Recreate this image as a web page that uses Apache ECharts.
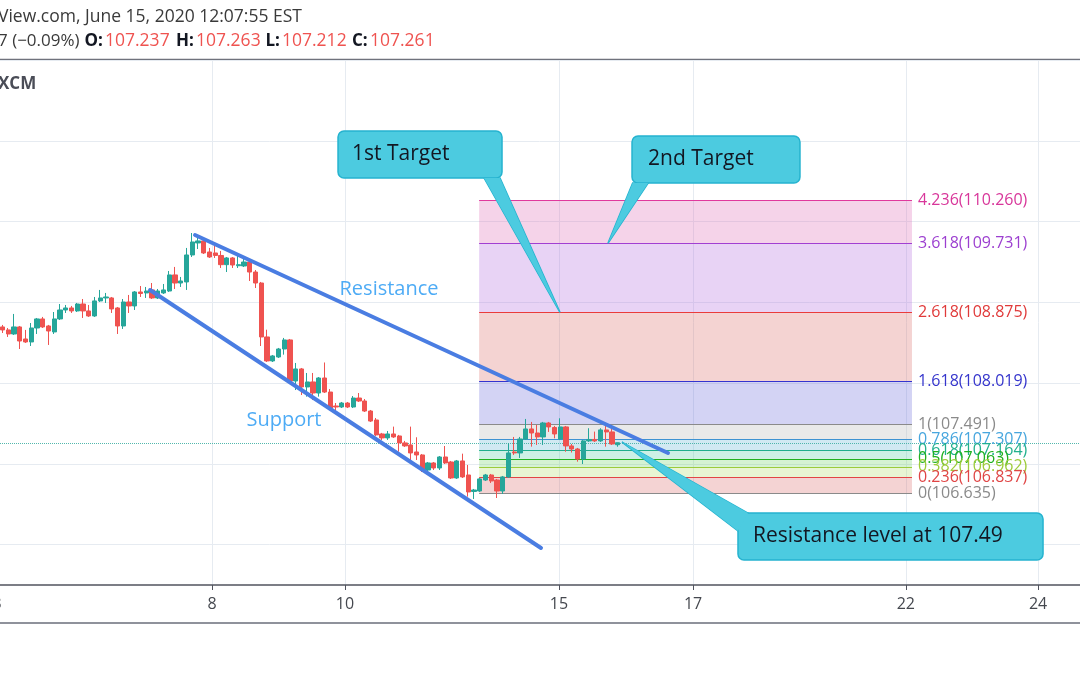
<!DOCTYPE html>
<html>
<head>
<meta charset="utf-8">
<script src="https://cdn.jsdelivr.net/npm/echarts@6.0.0/dist/echarts.min.js"></script>
<style>
html,body{margin:0;padding:0;background:#ffffff;overflow:hidden}
#chart{width:1080px;height:675px}
</style>
</head>
<body>
<div id="chart"></div>
<script>
// ---------------- data (USD/JPY, 2h candles, June 2020) ----------------
const opens = [108.695,108.658,108.608,108.695,108.546,108.509,108.682,108.794,108.707,108.633,
108.794,108.905,108.930,108.893,108.979,108.893,108.831,109.017,109.054,109.054,
108.930,108.707,109.004,108.955,109.128,109.116,109.153,109.054,109.116,109.140,
109.339,109.239,109.252,109.586,109.735,109.760,109.623,109.611,109.580,109.466,
109.549,109.453,109.450,109.499,109.375,109.239,108.571,108.274,108.323,108.422,
108.534,108.026,108.175,107.952,108.014,107.877,108.063,107.889,107.716,107.704,
107.753,107.704,107.815,107.778,107.654,107.543,107.370,107.321,107.370,107.345,
107.259,107.234,107.147,107.110,106.924,107.011,106.949,107.085,107.023,106.825,
107.036,106.862,106.658,106.664,106.800,106.862,106.800,106.664,106.838,107.147,
107.135,107.308,107.432,107.382,107.333,107.506,107.450,107.308,107.457,107.222,
107.184,107.060,107.284,107.302,107.284,107.420,107.395,107.237];
const closes = [108.658,108.608,108.695,108.521,108.509,108.682,108.794,108.695,108.645,108.794,
108.905,108.930,108.893,108.979,108.893,108.831,109.017,109.054,109.066,108.918,
108.707,109.004,108.955,109.128,109.109,109.140,109.054,109.140,109.153,109.339,
109.239,109.264,109.586,109.747,109.760,109.611,109.561,109.580,109.466,109.549,
109.462,109.466,109.499,109.375,109.239,108.571,108.274,108.336,108.422,108.534,
108.026,108.175,107.952,108.014,107.877,108.063,107.889,107.691,107.704,107.753,
107.704,107.815,107.778,107.654,107.530,107.358,107.321,107.370,107.333,107.259,
107.222,107.135,107.110,106.924,107.011,106.949,107.085,107.011,106.825,107.036,
106.838,106.652,106.676,106.813,106.862,106.788,106.664,106.838,107.135,107.135,
107.308,107.432,107.382,107.333,107.506,107.457,107.370,107.457,107.222,107.184,
107.060,107.284,107.302,107.284,107.420,107.395,107.246,107.261];
const highs = [108.720,108.682,108.856,108.707,108.658,108.744,108.806,108.819,108.720,108.880,
108.979,108.967,108.955,108.992,109.041,108.967,109.066,109.153,109.116,109.066,
108.942,109.041,109.091,109.140,109.202,109.190,109.239,109.165,109.227,109.388,
109.438,109.314,109.673,109.858,109.822,109.772,109.673,109.698,109.636,109.561,
109.561,109.574,109.561,109.528,109.400,109.252,108.661,108.348,108.435,108.559,
108.546,108.249,108.187,108.125,108.125,108.075,108.255,107.926,107.753,107.766,
107.766,107.840,107.877,107.803,107.667,107.568,107.383,107.407,107.461,107.358,
107.284,107.461,107.329,107.122,107.023,107.023,107.097,107.221,107.036,107.048,
107.126,106.986,106.689,106.825,106.875,106.875,106.813,106.850,107.255,107.333,
107.333,107.556,107.519,107.481,107.519,107.519,107.469,107.564,107.469,107.246,
107.197,107.296,107.441,107.399,107.441,107.481,107.441,107.263];
const lows = [108.620,108.571,108.596,108.422,108.497,108.459,108.608,108.682,108.472,108.608,
108.781,108.868,108.868,108.880,108.806,108.819,108.819,109.004,108.992,108.868,
108.608,108.670,108.868,108.905,109.066,109.054,109.041,109.041,109.103,109.128,
109.165,109.190,109.153,109.561,109.660,109.598,109.549,109.549,109.425,109.375,
109.425,109.425,109.437,109.264,109.177,108.459,108.261,108.261,108.311,108.352,
108.001,107.914,107.852,107.832,107.790,107.832,107.877,107.667,107.629,107.691,
107.691,107.691,107.766,107.642,107.518,107.345,107.296,107.296,107.321,107.150,
107.209,107.011,107.048,106.899,106.912,106.924,106.924,106.998,106.813,106.813,
106.825,106.594,106.565,106.652,106.788,106.763,106.577,106.627,106.825,107.110,
107.073,107.296,107.213,107.234,107.234,107.395,107.316,107.296,107.150,107.140,
107.027,106.998,107.271,107.271,107.271,107.213,107.234,107.212];

// x axis in bar-index units; day labels
const tickLabels = ['3', '8', '10', '15', '17', '22', '24'];
const tickValues = [-0.95, 36.45, 59.57, 96.79, 120.1, 157.1, 180.1];

// Fibonacci extension
const fibRatios = ['4.236', '3.618', '2.618', '1.618', '1', '0.786', '0.618', '0.5', '0.382', '0.236', '0'];
const fibPrices = [110.260, 109.731, 108.875, 108.019, 107.491, 107.307, 107.164, 107.063, 106.962, 106.837, 106.635];
const fibSpan = [82.9, 158.18];

const lastPrice = 107.261;

// trend lines [barIndex, price]
const resistanceLine = [[33.49, 109.833], [115.75, 107.134]];
const supportLine = [[25.66, 109.152], [93.66, 105.958]];
const lineLabels = [[67.23, 109.165, 'Resistance'], [48.96, 107.543, 'Support']];

// callouts (data coordinates)
const callouts = [
  {text: '1st Target', box: [58.36, 111.121, 86.88, 110.539], textAt: [60.79, 110.830],
   base: [[83.75, 110.539], [86.53, 110.539]], tip: [96.96, 108.875]},
  {text: '2nd Target', box: [109.49, 111.059, 138.70, 110.477], textAt: [112.27, 110.780],
   base: [[109.60, 110.477], [112.30, 110.477]], tip: [105.30, 109.731]},
  {text: 'Resistance level at 107.49', box: [127.92, 106.391, 180.97, 105.810], textAt: [130.53, 106.107],
   base: [[129.66, 106.391], [127.92, 106.169]], tip: [107.75, 107.270]}
];

// ---------------- styles ----------------
const FONT = '"Open Sans", sans-serif';
const GRID_COLOR = '#e6ebf1';
const fibLineColors = ['#e0399d', '#a23fd2', '#ea3b3b', '#3434cf', '#8a8a8a', '#3d92d2', '#1fae8c', '#22b022', '#9ccb3c', '#e24545', '#8a8a8a'];
const fibTextColors = ['#d8369a', '#9c3fd0', '#e03a3a', '#3535cc', '#8a8a8a', '#47a6de', '#22b08e', '#1fb01f', '#9dcb3a', '#e04545', '#8a8a8a'];
const fibFills = ['rgba(222,108,182,0.3)', 'rgba(178,108,222,0.3)', 'rgba(218,108,105,0.3)', 'rgba(108,108,218,0.3)',
  'rgba(182,182,182,0.3)', 'rgba(102,182,212,0.3)', 'rgba(88,205,168,0.3)', 'rgba(115,212,108,0.3)',
  'rgba(178,222,108,0.3)', 'rgba(218,108,108,0.3)'];

const X_MIN = -1.82, X_MAX = 187.4;

const candleData = opens.map((o, i) => [i, o, closes[i], lows[i], highs[i]]);

function labelFor(v) {
  let best = -1, bd = 1e9;
  tickValues.forEach((t, i) => { const d = Math.abs(t - v); if (d < bd) { bd = d; best = i; } });
  return bd < 0.01 ? tickLabels[best] : '';
}

function txt(x, y, text, font, fill) {
  return {type: 'text', x: x, y: y, silent: true,
    style: {text: text, font: font, fill: fill, textAlign: 'left', align: 'left',
      textVerticalAlign: 'middle', verticalAlign: 'middle'}};
}

const chart = echarts.init(document.getElementById('chart'));
chart.setOption({
  animation: false,
  backgroundColor: '#ffffff',
  grid: {left: -8, right: 0, top: 60, bottom: 90, containLabel: false, outerBoundsMode: 'none'},
  xAxis: {
    type: 'value', min: X_MIN, max: X_MAX,
    axisLine: {show: true, onZero: false, lineStyle: {color: '#50535e', width: 1.5}},
    axisTick: {show: true, length: 5, customValues: tickValues, lineStyle: {color: '#50535e'}},
    axisLabel: {show: true, customValues: tickValues, formatter: labelFor, color: '#45484f',
      fontSize: 16, fontFamily: FONT, margin: 11},
    splitLine: {show: false}
  },
  yAxis: {
    type: 'value', min: 105.5, max: 112, interval: 0.5, position: 'right',
    axisLine: {show: false}, axisTick: {show: false}, axisLabel: {show: false},
    splitLine: {show: true, lineStyle: {color: ['rgba(0,0,0,0)', GRID_COLOR], width: 1}}
  },
  series: [
    {
      type: 'scatter', name: 'grid', data: [], silent: true,
      markLine: {
        silent: true, symbol: ['none', 'none'], z: 0, animation: false,
        label: {show: false},
        lineStyle: {color: GRID_COLOR, type: 'solid', width: 1},
        data: tickValues.map(v => ({xAxis: v}))
      }
    },
    {
      type: 'candlestick', name: 'USDJPY', data: candleData, barWidth: 4.6, z: 3, silent: true,
      itemStyle: {color: '#26a69a', color0: '#ef5350', borderColor: '#26a69a', borderColor0: '#ef5350', borderWidth: 1},
      markArea: {
        silent: true, z: 1,
        data: fibFills.map((c, i) => [
          {coord: [fibSpan[0], fibPrices[i]], itemStyle: {color: c}},
          {coord: [fibSpan[1], fibPrices[i + 1]]}
        ])
      },
      markLine: {
        silent: true, symbol: ['none', 'none'], z: 2, animation: false,
        data: fibPrices.map((p, i) => [
          {coord: [fibSpan[0], p], lineStyle: {color: fibLineColors[i], width: 1, type: 'solid'},
           label: {show: true, position: 'end', distance: 6, formatter: fibRatios[i] + '(' + p.toFixed(3) + ')',
             color: fibTextColors[i], fontSize: 16, fontFamily: FONT}},
          {coord: [fibSpan[1], p]}
        ]).concat([[
          {coord: [X_MIN, lastPrice], lineStyle: {color: '#3fb0a4', width: 1, type: 'dotted', opacity: 0.9}, label: {show: false}},
          {coord: [X_MAX, lastPrice]}
        ]])
      }
    },
    {
      type: 'line', name: 'Resistance', data: resistanceLine, symbol: 'none', z: 4, silent: true,
      lineStyle: {color: '#4a7de2', width: 4, cap: 'round'}
    },
    {
      type: 'line', name: 'Support', data: supportLine, symbol: 'none', z: 4, silent: true,
      lineStyle: {color: '#4a7de2', width: 4, cap: 'round'}
    },
    {
      type: 'scatter', name: 'labels', data: lineLabels, symbolSize: 1, z: 5, silent: true,
      itemStyle: {color: 'rgba(0,0,0,0)'},
      label: {show: true, position: 'inside', formatter: p => p.value[2], color: '#2196f3', fontSize: 20, fontFamily: FONT}
    },
    {
      type: 'custom', name: 'callouts', z: 10, silent: true, clip: false,
      data: callouts.map(c => [c.tip[0], c.tip[1]]),
      encode: {x: 0, y: 1},
      renderItem: function (params, api) {
        const c = callouts[params.dataIndex];
        const p1 = api.coord([c.box[0], c.box[1]]);
        const p2 = api.coord([c.box[2], c.box[3]]);
        const b1 = api.coord(c.base[0]), b2 = api.coord(c.base[1]), t = api.coord(c.tip);
        const ta = api.coord(c.textAt);
        const fill = '#4ccbe0', stroke = '#25b3cf';
        return {
          type: 'group',
          children: [
            {type: 'polygon', shape: {points: [b1, t, b2]}, style: {fill: fill, stroke: stroke, lineWidth: 1.5}},
            {type: 'rect', shape: {x: p1[0], y: p1[1], width: p2[0] - p1[0], height: p2[1] - p1[1], r: 6},
             style: {fill: fill, stroke: stroke, lineWidth: 1.5}},
            {type: 'polygon', shape: {points: [b1, t, b2]}, style: {fill: fill}},
            {type: 'text', style: {text: c.text, x: ta[0], y: ta[1], fill: '#131722', font: '21px ' + FONT,
              textAlign: 'left', align: 'left', textVerticalAlign: 'middle', verticalAlign: 'middle'}}
          ]
        };
      }
    }
  ],
  graphic: [
    txt(-2, 17, 'View.com, June 15, 2020 12:07:55 EST', '17.5px ' + FONT, '#3a3a3a'),
    txt(-2, 41, '7 (\u22120.09%)', '17px ' + FONT, '#3a3a3a'),
    txt(84.5, 41, 'O:', 'bold 17px ' + FONT, '#131722'),
    txt(105, 41, '107.237', '17.5px ' + FONT, '#ef5350'),
    txt(176, 41, 'H:', 'bold 17px ' + FONT, '#131722'),
    txt(196, 41, '107.263', '17.5px ' + FONT, '#ef5350'),
    txt(265.5, 41, 'L:', 'bold 17px ' + FONT, '#131722'),
    txt(282, 41, '107.212', '17.5px ' + FONT, '#ef5350'),
    txt(352, 41, 'C:', 'bold 17px ' + FONT, '#131722'),
    txt(370, 41, '107.261', '17.5px ' + FONT, '#ef5350'),
    txt(-2, 84, 'XCM', 'bold 17px ' + FONT, '#4a4d57'),
    {type: 'line', silent: true, shape: {x1: 0, y1: 59.5, x2: 1080, y2: 59.5}, style: {stroke: '#6f727c', lineWidth: 1.5}},
    {type: 'line', silent: true, shape: {x1: 0, y1: 623, x2: 1080, y2: 623}, style: {stroke: '#8f929b', lineWidth: 2}}
  ]
});
</script>
</body>
</html>
